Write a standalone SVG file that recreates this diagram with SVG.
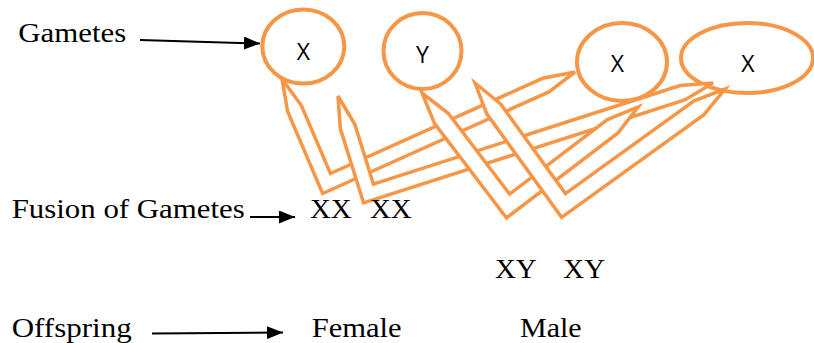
<svg xmlns="http://www.w3.org/2000/svg" width="814" height="343" viewBox="0 0 814 343">
  <style>
    .lbl { font-family: "Liberation Serif", "Times New Roman", serif; font-size: 28px; fill: #000; }
    .gam { font-family: "Open Sans", "Liberation Sans", sans-serif; font-size: 23px; fill: #000; text-anchor: middle; }
    .cell { fill: #fff; stroke: #F79646; stroke-width: 4; }
    .band { fill: #fff; stroke: #F79646; stroke-width: 3.5; stroke-linejoin: miter; }
    .ptr { stroke: #000; stroke-width: 2; fill: none; marker-end: url(#head); }
  </style>
  <defs>
    <marker id="head" markerUnits="userSpaceOnUse" markerWidth="16" markerHeight="13" refX="16" refY="6.5" orient="auto">
      <path d="M0,0 L16,6.5 L0,13 Z" fill="#000"/>
    </marker>
  </defs>

  <rect width="814" height="343" fill="#fff"/>

  <!-- row labels -->
  <g id="label-gametes">
    <text class="lbl" x="18.3" y="41.5" textLength="108" lengthAdjust="spacingAndGlyphs">Gametes</text>
  </g>
  <g id="label-fusion">
    <text class="lbl" x="11.7" y="218.3" textLength="233" lengthAdjust="spacingAndGlyphs">Fusion of Gametes</text>
  </g>
  <g id="label-offspring">
    <text class="lbl" x="11.7" y="337" textLength="120" lengthAdjust="spacingAndGlyphs">Offspring</text>
  </g>

  <!-- gamete cells -->
  <g id="gamete-x1">
    <ellipse class="cell" cx="303.3" cy="46.5" rx="41" ry="37"/>
    <text class="gam" x="303.3" y="60">X</text>
  </g>
  <g id="gamete-y">
    <ellipse class="cell" cx="422.5" cy="51" rx="39" ry="38"/>
    <text class="gam" x="422.5" y="63.3">Y</text>
  </g>
  <g id="gamete-x3">
    <ellipse class="cell" cx="622" cy="62" rx="45" ry="39"/>
    <text class="gam" x="617.5" y="71.7">X</text>
  </g>
  <g id="gamete-x4">
    <ellipse class="cell" cx="747" cy="58" rx="66" ry="35"/>
    <text class="gam" x="748" y="71.7">X</text>
  </g>

  <!-- pointers and fusion bands -->
  <g id="connectors">
    <line class="ptr" x1="140" y1="40" x2="260" y2="43.5"/>
    <line class="ptr" x1="250" y1="217" x2="295" y2="217"/>
    <line class="ptr" x1="152" y1="333.5" x2="283" y2="332.5"/>

    <polygon class="band" points="282,79 301.4,105.5 330.4,173.5 542.7,78.3 575,72 548.9,91.9 322.6,193.5 287.6,111.4"/>
    <polygon class="band" points="338,96 354.8,124.3 373.4,184.1 680.2,85.6 713,83 684.8,99.9 363.6,202.9 340.4,128.8"/>
    <polygon class="band" points="422,93 448.2,113.3 509.6,194.1 607.4,119.6 638,107 617.7,133.2 506.4,217.9 434.6,123.6"/>
    <polygon class="band" points="475,83 500.6,103.9 565.4,193.6 694.1,100.8 725,89 704,114.6 561.6,217.4 486.8,113.9"/>
  </g>

  <!-- zygotes and offspring -->
  <g id="zygote-xx1"><text class="lbl" x="310" y="218.3" textLength="41.7" lengthAdjust="spacingAndGlyphs">XX</text></g>
  <g id="zygote-xx2"><text class="lbl" x="370" y="218.3" textLength="41.7" lengthAdjust="spacingAndGlyphs">XX</text></g>
  <g id="zygote-xy1"><text class="lbl" x="495" y="278.3" textLength="41.7" lengthAdjust="spacingAndGlyphs">XY</text></g>
  <g id="zygote-xy2"><text class="lbl" x="563.3" y="278.3" textLength="41.7" lengthAdjust="spacingAndGlyphs">XY</text></g>
  <g id="offspring-female"><text class="lbl" x="311.7" y="337" textLength="90" lengthAdjust="spacingAndGlyphs">Female</text></g>
  <g id="offspring-male"><text class="lbl" x="520" y="337" textLength="61.7" lengthAdjust="spacingAndGlyphs">Male</text></g>
</svg>
